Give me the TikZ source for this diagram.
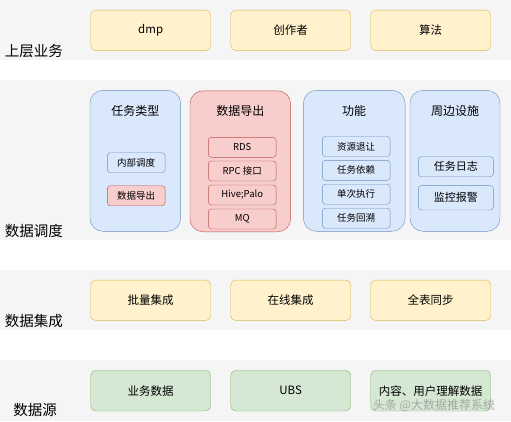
\documentclass[tikz,border=0pt]{standalone}
\usepackage{fontspec}
\setmainfont{Noto Sans CJK SC}
\usepackage{tikz}
\tikzset{>=latex}
\definecolor{bandgray}{HTML}{F5F5F5}
\definecolor{yelfill}{HTML}{FFF2CC}
\definecolor{yeldraw}{HTML}{D6B656}
\definecolor{bluefill}{HTML}{DAE8FC}
\definecolor{bluedraw}{HTML}{6C8EBF}
\definecolor{redfill}{HTML}{F8CECC}
\definecolor{reddraw}{HTML}{B85450}
\definecolor{grnfill}{HTML}{D5E8D4}
\definecolor{grndraw}{HTML}{82B366}
\tikzset{
  layerbox/.style={draw, rounded corners=5pt, minimum width=120pt, minimum height=40.5pt, font=\fontsize{11.5}{12}\selectfont, inner sep=0pt},
  yelbox/.style={layerbox, fill=yelfill, draw=yeldraw},
  grnbox/.style={layerbox, fill=grnfill, draw=grndraw},
  panel/.style={draw, rounded corners=13pt, minimum height=141pt, inner sep=0pt},
  item/.style={draw, rounded corners=3pt, minimum height=20pt, inner sep=0pt, font=\fontsize{9.5}{10}\selectfont},
  layerlabel/.style={font=\fontsize{14.5}{15}\selectfont, inner sep=0pt},
  paneltitle/.style={font=\fontsize{12}{13}\selectfont, inner sep=0pt}
}
\begin{document}
\begin{tikzpicture}[x=1pt,y=-1pt]
  \useasboundingbox (0,0) rectangle (511,421);
  % bands
  \fill[bandgray] (0,0) rectangle (511,60);
  \fill[bandgray] (0,80) rectangle (511,240);
  \fill[bandgray] (0,270) rectangle (511,330);
  \fill[bandgray] (0,360) rectangle (511,421);

  \node[layerlabel] (lupper) at (34,51.5) {上层业务};
  \node[layerlabel] (lsched) at (34,230.5) {数据调度};
  \node[layerlabel] (linteg) at (34,321) {数据集成};
  \node[layerlabel] (lsrc) at (35,410) {数据源};

  % upper business
  \node[yelbox] (dmp) at (150.7,30.3) {dmp};
  \node[yelbox] (author) at (290.7,30.3) {创作者};
  \node[yelbox] (algo) at (430.7,30.3) {算法};

  % scheduling panels
  \node[panel, fill=bluefill, draw=bluedraw, minimum width=90.7pt] (tasktype) at (135.3,160.8) {};
  \node[panel, fill=redfill, draw=reddraw, minimum width=100.7pt] (export) at (240.3,161.3) {};
  \node[panel, fill=bluefill, draw=bluedraw, minimum width=101.7pt] (func) at (354.2,160.8) {};
  \node[panel, fill=bluefill, draw=bluedraw, minimum width=90pt] (periph) at (455,160.8) {};

  \node[paneltitle] (ttype) at (135.3,111) {任务类型};
  \node[paneltitle] (texport) at (240.3,111) {数据导出};
  \node[paneltitle] (tfunc) at (354.2,111) {功能};
  \node[paneltitle] (tperiph) at (455,111) {周边设施};

  \node[item, fill=bluefill, draw=bluedraw, minimum width=57.7pt] (inner) at (136.2,162.7) {内部调度};
  \node[item, fill=redfill, draw=reddraw, minimum width=57.7pt] (expsmall) at (136.2,195.7) {数据导出};

  \node[item, fill=redfill, draw=reddraw, minimum width=67.7pt] (rds) at (242.2,147.3) {RDS};
  \node[item, fill=redfill, draw=reddraw, minimum width=67.7pt] (rpc) at (242.2,171) {RPC 接口};
  \node[item, fill=redfill, draw=reddraw, minimum width=67.7pt] (hive) at (242.2,195) {Hive;Palo};
  \node[item, fill=redfill, draw=reddraw, minimum width=67.7pt] (mq) at (242.2,219) {MQ};

  \node[item, fill=bluefill, draw=bluedraw, minimum width=67.7pt] (yield) at (356.2,146.5) {资源退让};
  \node[item, fill=bluefill, draw=bluedraw, minimum width=67.7pt] (depend) at (356.2,170.3) {任务依赖};
  \node[item, fill=bluefill, draw=bluedraw, minimum width=67.7pt] (once) at (356.2,194.2) {单次执行};
  \node[item, fill=bluefill, draw=bluedraw, minimum width=67.7pt] (backfill) at (356.2,218.2) {任务回溯};

  \node[item, fill=bluefill, draw=bluedraw, minimum width=75pt, font=\fontsize{11}{12}\selectfont] (tasklog) at (455.8,166.7) {任务日志};
  \node[item, fill=bluefill, draw=bluedraw, minimum width=75pt, minimum height=24.3pt, font=\fontsize{11}{12}\selectfont] (alarm) at (455.8,197.8) {监控报警};

  % integration
  \node[yelbox] (batch) at (150.7,300.3) {批量集成};
  \node[yelbox] (online) at (290.7,300.3) {在线集成};
  \node[yelbox] (fullsync) at (430.7,300.3) {全表同步};

  % sources
  \node[grnbox] (bizdata) at (150.7,390.7) {业务数据};
  \node[grnbox] (ubs) at (290.7,390.7) {UBS};
  \node[grnbox] (content) at (430.7,390.7) {内容、用户理解数据};

  \node[font=\fontsize{12}{13}\selectfont, text=gray, opacity=0.6, inner sep=0pt] (wmark) at (434,405) {头条 @大数据推荐系统};
\end{tikzpicture}
\end{document}
